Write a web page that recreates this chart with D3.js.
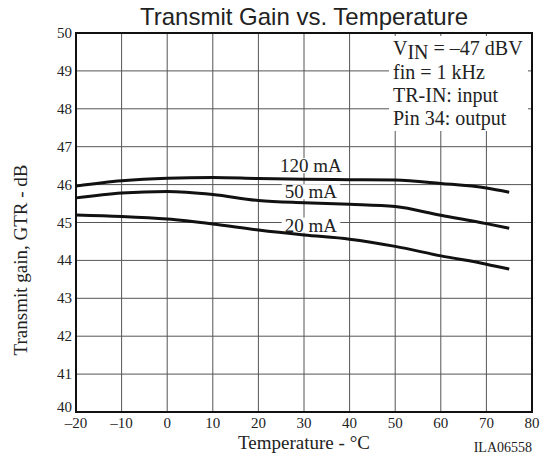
<!DOCTYPE html>
<html>
<head>
<meta charset="utf-8">
<script src="https://cdn.jsdelivr.net/npm/d3@7"></script>
<style>
  body { margin: 0; background: #fff; }
  svg { display: block; }
</style>
</head>
<body>
<script>
// temperature points (deg C) and gain (dB)
const temps = [-20, -10, 0, 10, 20, 30, 40, 50, 60, 70, 75];
const gain120 = [45.96, 46.1, 46.17, 46.19, 46.16, 46.14, 46.13, 46.12, 46.03, 45.91, 45.8];
const gain50 = [45.65, 45.78, 45.82, 45.74, 45.58, 45.52, 45.48, 45.42, 45.19, 44.97, 44.85];
const gain20 = [45.2, 45.16, 45.09, 44.96, 44.8, 44.67, 44.56, 44.37, 44.12, 43.9, 43.77];

const curveNames = ["120 mA", "50 mA", "20 mA"];
// where each curve label sits (temp, gain of baseline)
const labelTemp = [31.5, 31.5, 31.5];
const labelGain = [46.33, 45.64, 44.76];

const xTicks = [-20, -10, 0, 10, 20, 30, 40, 50, 60, 70, 80];
const yTicks = [40, 41, 42, 43, 44, 45, 46, 47, 48, 49, 50];

const noteLines = ["fin = 1 kHz", "TR-IN: input", "Pin 34: output"];

const svg = d3.select("body").append("svg")
  .attr("width", 541)
  .attr("height", 459);

const x = d3.scaleLinear().domain([-20, 80]).range([76, 532]);
const y = d3.scaleLinear().domain([40, 50]).range([412, 33]);

const serif = "'Liberation Serif', 'Times New Roman', serif";

// title
svg.append("text")
  .attr("x", 304)
  .attr("y", 25)
  .attr("text-anchor", "middle")
  .style("font-family", "'Liberation Sans', Arial, sans-serif")
  .style("font-size", "24px")
  .style("fill", "#222")
  .text("Transmit Gain vs. Temperature");

// grid
const grid = svg.append("g").attr("stroke", "#555").attr("stroke-width", 1);
grid.selectAll(".vg")
  .data(xTicks.slice(1, -1))
  .enter()
  .append("line")
    .attr("x1", d => x(d)).attr("x2", d => x(d))
    .attr("y1", y(40)).attr("y2", y(50));
grid.selectAll(".hg")
  .data(yTicks.slice(1, -1))
  .enter()
  .append("line")
    .attr("x1", x(-20)).attr("x2", x(80))
    .attr("y1", d => y(d)).attr("y2", d => y(d));

// white box for the conditions note
svg.append("rect")
  .attr("x", 389)
  .attr("y", 36)
  .attr("width", 528 - 389)
  .attr("height", 131 - 36)
  .style("fill", "white");

// axes as plain tick labels
svg.append("g").selectAll("text")
  .data(xTicks)
  .enter()
  .append("text")
    .attr("x", d => x(d))
    .attr("y", 428)
    .attr("text-anchor", "middle")
    .style("font-family", serif)
    .style("font-size", "15px")
    .style("fill", "#222")
    .text(d => d < 0 ? "\u2013" + Math.abs(d) : d);

svg.append("g").selectAll("text")
  .data(yTicks)
  .enter()
  .append("text")
    .attr("x", 72)
    .attr("y", d => d === 40 ? y(d) : y(d) + 5)   // bottom one sits up off the x labels
    .attr("text-anchor", "end")
    .style("font-family", serif)
    .style("font-size", "15px")
    .style("fill", "#222")
    .text(d => d);

svg.append("text")
  .attr("x", 304)
  .attr("y", 449)
  .attr("text-anchor", "middle")
  .style("font-family", serif)
  .style("font-size", "19px")
  .style("fill", "#222")
  .text("Temperature - \u00B0C");

svg.append("text")
  .attr("transform", "translate(27, 260)rotate(-90)")
  .attr("text-anchor", "middle")
  .style("font-family", serif)
  .style("font-size", "19px")
  .style("fill", "#222")
  .text("Transmit gain, GTR - dB");

svg.append("text")
  .attr("x", 532)
  .attr("y", 452)
  .attr("text-anchor", "end")
  .style("font-family", serif)
  .style("font-size", "14px")
  .style("fill", "#222")
  .text("ILA06558");

// curves
const line = d3.line()
  .x((d, i) => x(temps[i]))
  .y(d => y(d))
  .curve(d3.curveMonotoneX);

[gain120, gain50, gain20].forEach(function(g) {
  svg.append("path")
    .datum(g)
    .attr("d", line)
    .attr("fill", "none")
    .attr("stroke", "#111")
    .attr("stroke-width", 3);
});

// curve labels with white background
curveNames.forEach(function(name, i) {
  let t = svg.append("text")
    .attr("x", x(labelTemp[i]))
    .attr("y", y(labelGain[i]))
    .attr("text-anchor", "middle")
    .style("font-family", serif)
    .style("font-size", "19px")
    .style("fill", "#222")
    .text(name);
  let bb = t.node().getBBox();
  svg.insert("rect", "path")
    .attr("x", bb.x - 3)
    .attr("y", bb.y + 3)
    .attr("width", bb.width + 6)
    .attr("height", bb.height - 6)
    .style("fill", "white");
});

// frame
svg.append("rect")
  .attr("x", x(-20))
  .attr("y", y(50))
  .attr("width", x(80) - x(-20))
  .attr("height", y(40) - y(50))
  .attr("fill", "none")
  .attr("stroke", "#111")
  .attr("stroke-width", 2);

// conditions note
const note = svg.append("g")
  .style("font-family", serif)
  .style("font-size", "20px")
  .style("fill", "#222");

let vin = note.append("text").attr("x", 393).attr("y", 55);
vin.append("tspan").text("V");
vin.append("tspan").attr("dy", 3.5).text("IN");
vin.append("tspan").attr("dy", -3.5).text(" = \u201347 dBV");

note.selectAll(".nl")
  .data(noteLines)
  .enter()
  .append("text")
    .attr("x", 393)
    .attr("y", (d, i) => 79 + i * 23)
    .text(d => d);
</script>
</body>
</html>
